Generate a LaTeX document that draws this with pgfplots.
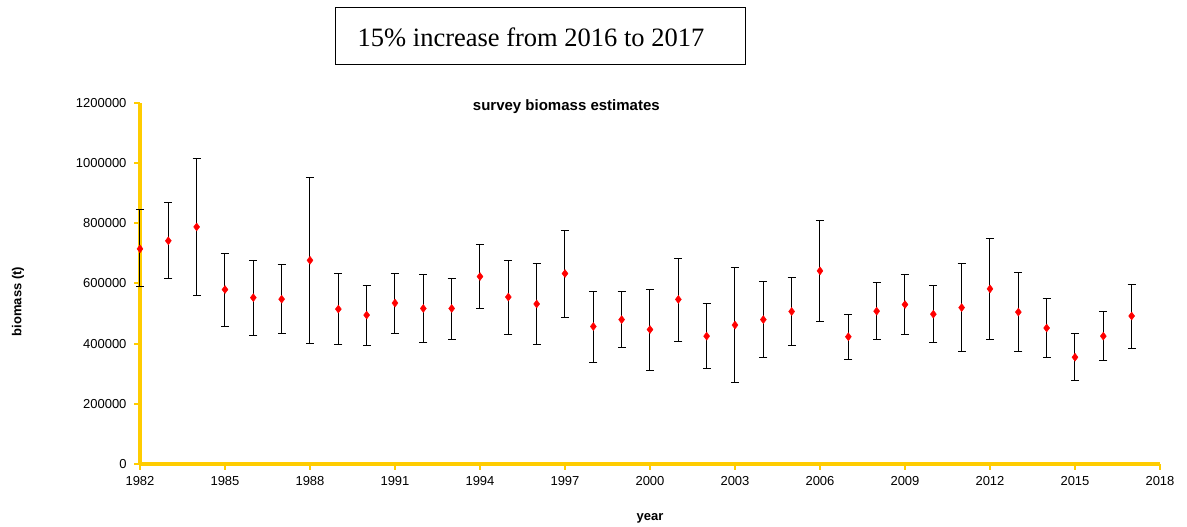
\documentclass[border=0pt]{standalone}
\usepackage{pgfplots}
\pgfplotsset{compat=1.18}
\usepackage{pgfplotstable}
\usepackage{fontspec}
\setmainfont{Liberation Sans}
\newfontfamily\serif{Liberation Serif}
\definecolor{axy}{RGB}{255,204,0}
\pgfplotstableread{
yr y ep em
1982 715000 130000 125000
1983 742000 128000 127000
1984 788000 229000 228000
1985 580000 120000 122000
1986 553000 125000 125000
1987 548000 114000 115000
1988 677000 276000 277000
1989 515000 118000 118000
1990 495000 100000 100000
1991 535000 98000 100000
1992 517000 113000 114000
1993 517000 100000 102000
1994 623000 107000 106000
1995 555000 123000 125000
1996 532000 133000 134000
1997 633000 144000 146000
1998 457000 116000 119000
1999 480000 93000 93000
2000 447000 133000 137000
2001 547000 135000 139000
2002 425000 108000 107000
2003 462000 191000 192000
2004 480000 128000 127000
2005 507000 113000 112000
2006 642000 166000 167000
2007 423000 74000 75000
2008 508000 95000 93000
2009 530000 100000 100000
2010 498000 94000 95000
2011 520000 145000 145000
2012 582000 166000 167000
2013 505000 132000 132000
2014 452000 98000 99000
2015 355000 78000 77000
2016 425000 82000 82000
2017 492000 105000 107000
}\data
\begin{document}
\begin{tikzpicture}[x=1pt,y=1pt]
\useasboundingbox (0,0) rectangle (1187,527);
\begin{axis}[at={(140pt,63pt)}, anchor=origin,
  scale only axis, width=1020pt, height=361pt,
  xmin=1982, xmax=2018, ymin=0, ymax=1200000,
  axis x line*=bottom, axis y line*=left,
  axis line style={draw=axy, line width=4.5pt},
  xtick={1982,1985,...,2018}, ytick={0,200000,...,1200000},
  xticklabels={1982,1985,1988,1991,1994,1997,2000,2003,2006,2009,2012,2015,2018},
  yticklabels={0,200000,400000,600000,800000,1000000,1200000},
  tick style={draw=axy, line width=2pt},
  major tick length=6pt,
  tick align=outside,
  scaled y ticks=false,
  ticklabel style={font=\fontsize{13}{15}\selectfont},
  xticklabel style={yshift=-3pt},
  yticklabel style={xshift=-4pt},
  xlabel={\bfseries year}, ylabel={\bfseries biomass (t)},
  label style={font=\fontsize{13}{15}\selectfont},
  xlabel style={at={(0.5,0)}, anchor=center, yshift=-54pt},
  ylabel style={at={(0,0.5)}, anchor=center, rotate=0, yshift=122pt, xshift=-18pt},
  title={\bfseries survey biomass estimates},
  title style={font=\fontsize{15}{17}\selectfont, at={(0.418,1)}, anchor=center, yshift=-10pt},
  clip=false,
]
\addplot[only marks, mark=diamond*, mark size=4pt, color=red,
  error bars/.cd, y dir=both, y explicit,
  error bar style={black, line width=1pt},
  error mark options={black, line width=1pt, mark size=4pt, rotate=90}]
  table[x=yr, y=y, y error plus=ep, y error minus=em]{\data};
\end{axis}
\draw[black, line width=1pt] (335,462) rectangle (745,519);
\node[font=\serif\fontsize{26.5}{30}\selectfont] at (531,490) {15\% increase from 2016 to 2017};
\end{tikzpicture}
\end{document}
